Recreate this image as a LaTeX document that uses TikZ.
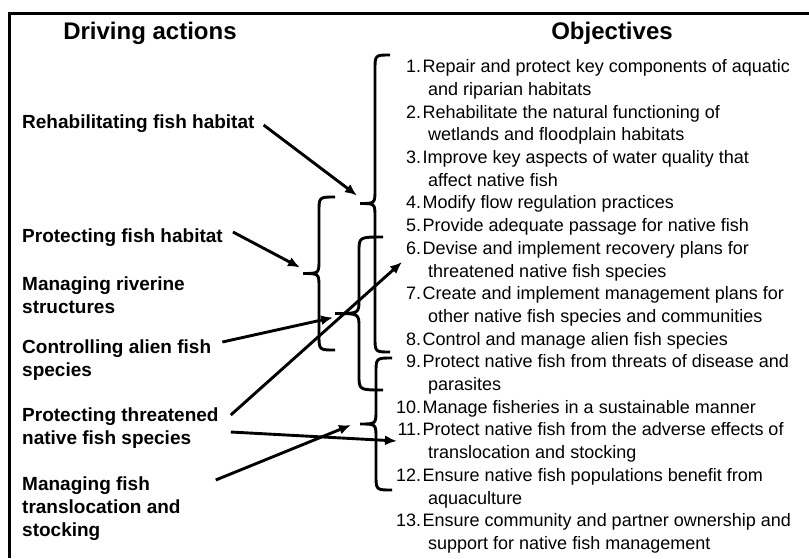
\documentclass[tikz,border=0pt]{standalone}
\usepackage{fontspec}
\setmainfont{Liberation Sans}
\usetikzlibrary{arrows.meta,calc}

\newcommand\objnum[1]{\makebox[31pt][r]{#1}\hspace{1.5pt}}
\newcommand\objind{\hspace*{38pt}}

\begin{document}
\begin{tikzpicture}[x=1pt, y=-1pt,
    arr/.style = {-{Latex[length=12pt,width=10pt]}, line width=2.9pt},
    brc/.style = {line width=2.9pt},
    act/.style = {anchor=west, inner sep=0pt, align=left, font=\fontsize{19}{23}\selectfont\bfseries},
    hd/.style  = {inner sep=0pt, font=\fontsize{24}{28}\selectfont\bfseries}
  ]
  \tikzstyle{obj}=[anchor=north west, inner sep=0pt, align=left, font=\fontsize{18}{22.7}\selectfont]

  \useasboundingbox (0,0) rectangle (809,558);
  \draw[line width=3pt] (9,558) -- (9,13) -- (809,13);

  % headings
  \node[hd] (h_1) at (150,33) {Driving actions};
  \node[hd] (h_2) at (612,33) {Objectives};

  % driving actions
  \node[act] (a_1) at (22,124)   {Rehabilitating fish habitat};
  \node[act] (a_2) at (22,238)   {Protecting fish habitat};
  \node[act] (a_3) at (22,295)   {Managing riverine\\structures};
  \node[act] (a_4) at (22,360.5) {Controlling alien fish\\species};
  \node[act] (a_5) at (22,428.5) {Protecting threatened\\native fish species};
  \node[act] (a_6) at (22,508.5) {Managing fish\\translocation and\\stocking};

  % objectives
  \node[obj] (objs) at (390,59.5) {%
    \objnum{1.}Repair and protect key components of aquatic\\
    \objind and riparian habitats\\
    \objnum{2.}Rehabilitate the natural functioning of\\
    \objind wetlands and floodplain habitats\\
    \objnum{3.}Improve key aspects of water quality that\\
    \objind affect native fish\\
    \objnum{4.}Modify flow regulation practices\\
    \objnum{5.}Provide adequate passage for native fish\\
    \objnum{6.}Devise and implement recovery plans for\\
    \objind threatened native fish species\\
    \objnum{7.}Create and implement management plans for\\
    \objind other native fish species and communities\\
    \objnum{8.}Control and manage alien fish species\\
    \objnum{9.}Protect native fish from threats of disease and\\
    \objind parasites\\
    \objnum{10.}Manage fisheries in a sustainable manner\\
    \objnum{11.}Protect native fish from the adverse effects of\\
    \objind translocation and stocking\\
    \objnum{12.}Ensure native fish populations benefit from\\
    \objind aquaculture\\
    \objnum{13.}Ensure community and partner ownership and\\
    \objind support for native fish management};

  % braces
  \foreach \xe/\xt/\yt/\yb/\n in {390/360/55/352/A, 335/303/197/350/B, 383/335/237/390/C, 392/360/358/490/D}{
    \pgfmathsetmacro\xv{(\xe+\xt)/2}
    \pgfmathsetmacro\ym{(\yt+\yb)/2}
    \draw[brc] (\xe,\yt) .. controls (\xv,\yt) .. (\xv,\yt+15) -- (\xv,\ym-14)
      .. controls (\xv,\ym) .. (\xt,\ym) .. controls (\xv,\ym) .. (\xv,\ym+14)
      -- (\xv,\yb-15) .. controls (\xv,\yb) .. (\xe,\yb);
    \coordinate (b_\n) at (\xt,\ym);
  }

  % arrow targets
  \coordinate (t_1) at ($(b_A)+(-3,-8)$);
  \coordinate (t_2) at ($(b_B)+(-3,-6)$);
  \coordinate (t_3) at ($(b_C)+(-2,4)$);
  \coordinate (t_4) at (402,262);
  \coordinate (t_5) at (397,441);
  \coordinate (t_6) at ($(b_D)+(-9,1)$);

  \path[arr]
  ([xshift=9pt,yshift=-1pt]a_1.east)   edge (t_1)
  ([xshift=10pt,yshift=6pt]a_2.east)   edge (t_2)
  ([xshift=11pt,yshift=18.5pt]a_4.east) edge (t_3)
  ([xshift=12pt,yshift=13.5pt]a_5.east) edge (t_4)
  ([xshift=12pt,yshift=-3.5pt]a_5.east) edge (t_5)
  ([xshift=35pt,yshift=28.5pt]a_6.east) edge (t_6)
  ;
\end{tikzpicture}
\end{document}
